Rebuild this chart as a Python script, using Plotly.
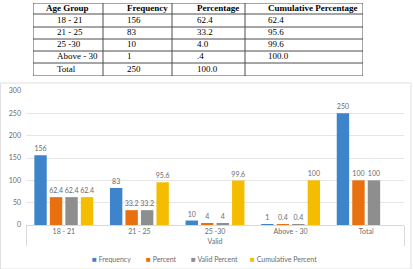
import plotly.graph_objects as go

# ---- data ----
table_headers = ["Age Group", "Frequency", "Percentage", "Cumulative Percentage"]
age_groups = ["18 - 21", "21 - 25", "25 -30", "Above - 30", "Total"]
table_freq = ["156", "83", "10", "1", "250"]
table_pct = ["62.4", "33.2", "4.0", ".4", "100.0"]
table_cum = ["62.4", "95.6", "99.6", "100.0", ""]

chart_categories = ["18 - 21", "21 - 25", "25 -30", "Above - 30", "Total"]
group_label = "Valid"
frequency = [156, 83, 10, 1, 250]
percent = [62.4, 33.2, 4, 0.4, 100]
valid_percent = [62.4, 33.2, 4, 0.4, 100]
cumulative_percent = [62.4, 95.6, 99.6, 100, None]
series_names = ["Frequency", "Percent", "Valid Percent", "Cumulative Percent"]

W, H = 413, 269
colors = ["#3d84cb", "#e8700f", "#8e8e8e", "#f5bd00"]
txtcol = "#6b6b6b"
FONT = "Lato"
SERIF = "Liberation Serif"

fig = go.Figure()

# ---- table (drawn on its own hidden axes, in pixel-like units) ----
col_edges = [0, 70, 139, 212, 330]
row_edges = [0, 11, 24, 36, 48, 60, 73]
header_offsets = [13, 24, 25, 23]
cell_offsets = [24, 24, 25, 23]
columns = [age_groups, table_freq, table_pct, table_cum]
row_centers = [(row_edges[i] + row_edges[i + 1]) / 2 for i in range(len(row_edges) - 1)]

fig.add_trace(go.Scatter(
    x=[col_edges[i] + header_offsets[i] for i in range(4)],
    y=[row_centers[0]] * 4,
    text=[f"<b>{h}</b>" for h in table_headers],
    mode="text", textposition="middle right", cliponaxis=False,
    textfont=dict(family=SERIF, size=9, color="black"),
    xaxis="x2", yaxis="y2", showlegend=False, hoverinfo="skip",
))
for i, col in enumerate(columns):
    fig.add_trace(go.Scatter(
        x=[col_edges[i] + cell_offsets[i]] * len(col),
        y=row_centers[1:],
        text=col,
        mode="text", textposition="middle right", cliponaxis=False,
        textfont=dict(family=SERIF, size=9, color="black"),
        xaxis="x2", yaxis="y2", showlegend=False, hoverinfo="skip",
    ))

table_shapes = []
line_style = dict(color="#4d4d4d", width=1)
for xe in col_edges:
    table_shapes.append(dict(type="line", xref="x2", yref="y2",
                             x0=xe, x1=xe, y0=row_edges[0], y1=row_edges[-1], line=line_style))
for ye in row_edges:
    table_shapes.append(dict(type="line", xref="x2", yref="y2",
                             x0=col_edges[0], x1=col_edges[-1], y0=ye, y1=ye, line=line_style))

# ---- bars ----
xcat = [[group_label] * len(chart_categories), chart_categories]
series = [frequency, percent, valid_percent, cumulative_percent]
for name, vals, col in zip(series_names, series, colors):
    fig.add_trace(go.Bar(
        x=xcat, y=vals, name=name, marker=dict(color=col, line=dict(width=0)),
        text=[("" if v is None else f"{v:g}") for v in vals],
        textposition="outside", cliponaxis=False, constraintext="none",
        textfont=dict(family=FONT, size=7, color=txtcol),
        showlegend=False, xaxis="x", yaxis="y",
    ))

# ---- legend entries (one legend each for precise placement) ----
legend_sq_x = [92, 146, 191, 250]
for i, (name, col) in enumerate(zip(series_names, colors)):
    lg = "legend" if i == 0 else f"legend{i+1}"
    fig.add_trace(go.Scatter(
        x=[None], y=[None], mode="markers",
        marker=dict(color="rgba(0,0,0,0)", size=1),
        name=f"<span style='color:{col};font-size:8px'>\u25a0</span> {name}",
        legend=lg, showlegend=True,
    ))

legend_common = dict(orientation="h", xanchor="left", yanchor="middle",
                      xref="container", yref="container",
                      bgcolor="rgba(0,0,0,0)", borderwidth=0,
                      font=dict(family=FONT, size=7, color=txtcol))
layout_legends = {}
for i, sx in enumerate(legend_sq_x):
    lg = "legend" if i == 0 else f"legend{i+1}"
    layout_legends[lg] = dict(x=(sx - 40) / W, y=1 - 259 / H, **legend_common)

frame = dict(type="rect", xref="paper", yref="paper",
             x0=0.5 / W, x1=411 / W, y0=0, y1=1 - 83 / H,
             line=dict(color="#e0e0e0", width=1), fillcolor="rgba(0,0,0,0)",
             layer="below")

fig.update_layout(
    width=W, height=H,
    margin=dict(l=0, r=0, t=0, b=0, autoexpand=False),
    paper_bgcolor="white", plot_bgcolor="white",
    barmode="group", bargap=0.18, bargroupgap=0.2,
    font=dict(family=FONT, size=7, color=txtcol),
    xaxis=dict(
        domain=[26 / W, 404 / W], type="multicategory", anchor="y",
        showline=True, linecolor="#d9d9d9", linewidth=1,
        showdividers=True, dividercolor="#d9d9d9", dividerwidth=1,
        tickfont=dict(family=FONT, size=7, color=txtcol),
        ticks="outside", ticklen=5, tickcolor="rgba(0,0,0,0)", showgrid=False,
    ),
    yaxis=dict(
        domain=[1 - 225 / H, 1 - 91 / H], range=[0, 300], dtick=50, anchor="x",
        showgrid=True, gridcolor="#e6e6e6", gridwidth=1,
        zeroline=False, showline=False, ticks="", ticklabelstandoff=4,
        tickfont=dict(family=FONT, size=7, color=txtcol),
    ),
    xaxis2=dict(domain=[33 / W, 363 / W], range=[0, 330], anchor="y2",
                visible=False, fixedrange=True),
    yaxis2=dict(domain=[1 - 76 / H, 1 - 3 / H], range=[73, 0], anchor="x2",
                visible=False, fixedrange=True),
    shapes=[frame] + table_shapes,
    **layout_legends,
)

fig.write_html("out.html")
